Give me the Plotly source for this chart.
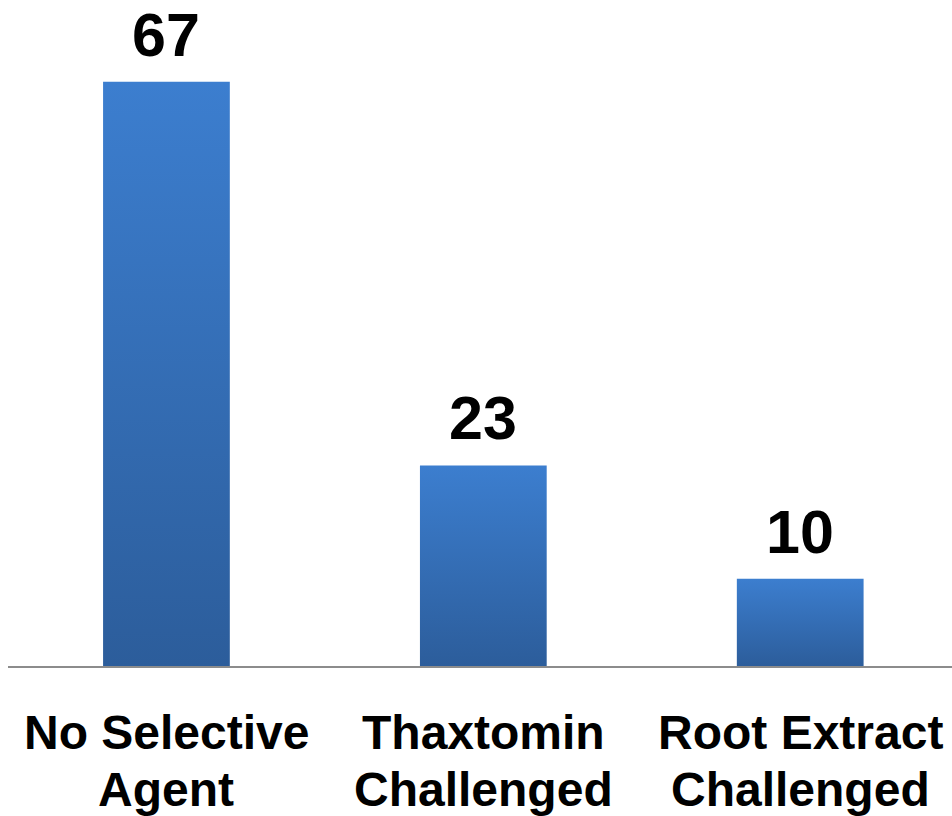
import plotly.graph_objects as go

# Data
categories = ["No Selective<br>Agent", "Thaxtomin<br>Challenged", "Root Extract<br>Challenged"]
values = [67, 23, 10]

BAR_HALF = 0.2
TOP_COLOR = "#3c7ecf"
BOTTOM_COLOR = "#2c5d9b"
LABEL_FONT = "Liberation Sans, Arial, sans-serif"

fig = go.Figure()

# Bars drawn as filled rectangles so each can carry a vertical gradient
for i, v in enumerate(values):
    xs = [i - BAR_HALF, i + BAR_HALF, i + BAR_HALF, i - BAR_HALF, i - BAR_HALF]
    ys = [0, 0, v, v, 0]
    fig.add_trace(go.Scatter(
        x=xs, y=ys, mode="lines", fill="toself",
        line=dict(width=0, color=TOP_COLOR),
        fillgradient=dict(type="vertical",
                          colorscale=[[0, BOTTOM_COLOR], [1, TOP_COLOR]]),
        hoverinfo="skip", showlegend=False,
    ))
    # value label above the bar
    fig.add_annotation(
        x=i, y=v, xref="x", yref="y", text=f"<b>{v}</b>",
        showarrow=False, yanchor="bottom", yshift=11,
        font=dict(family=LABEL_FONT, size=61, color="#000000"),
    )
    # category label, one annotation per line
    for j, line in enumerate(categories[i].split("<br>")):
        fig.add_annotation(
            x=i, y=0, xref="x", yref="y", text=f"<b>{line}</b>",
            showarrow=False, yanchor="top", yshift=-38 - 57 * j,
            font=dict(family=LABEL_FONT, size=48, color="#000000"),
        )

fig.update_layout(
    width=952, height=816,
    margin=dict(l=8, r=0, t=12, b=150),
    paper_bgcolor="white", plot_bgcolor="white",
    xaxis=dict(range=[-0.5, 2.479], showgrid=False, zeroline=False,
               showticklabels=False, ticks="",
               showline=True, linecolor="#8c8c8c", linewidth=2),
    yaxis=dict(range=[0, 75], showgrid=False, zeroline=False,
               showticklabels=False, ticks="", showline=False),
)

fig.write_html("out.html")
